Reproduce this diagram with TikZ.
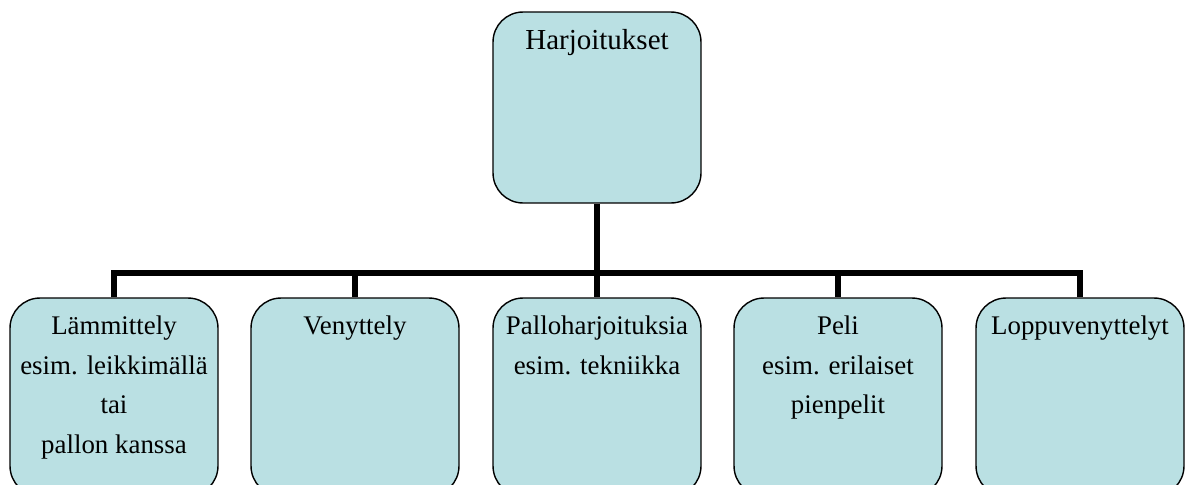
\documentclass[tikz,border=0pt]{standalone}
\usepackage{fontspec}
\setmainfont{Liberation Serif}
\usetikzlibrary{positioning}

\definecolor{boxblue}{RGB}{186,224,227}

\tikzset{
    box/.style={draw, line width=0.8pt, fill=boxblue, rounded corners=0.6cm,
        minimum width=4.16cm, inner sep=0pt},
    toptext/.style={anchor=north, inner sep=0pt, font=\fontsize{16.5}{22.8}\selectfont},
    boxtext/.style={anchor=north, inner sep=0pt, align=center, font=\fontsize{15.3}{22.6}\selectfont},
    conn/.style={line width=3.2pt, line join=miter}
}

\begin{document}
\begin{tikzpicture}[x=0.02cm, y=-0.02cm]

\useasboundingbox (0,0) rectangle (1192,484);
\clip (0,0) rectangle (1192,484);

% Top box
\node[box, minimum height=3.82cm] (harj) at (597,107.5) {};
\node[toptext] (harjtxt) at ([yshift=-0.36cm]harj.north) {Harjoitukset};

% Lower boxes
\node[box, minimum height=3.96cm] (lamm) at (114,397) {};
\node[box, minimum height=3.96cm] (veny) at (355,397) {};
\node[box, minimum height=3.96cm] (pallo) at (597,397) {};
\node[box, minimum height=3.96cm] (peli) at (838,397) {};
\node[box, minimum height=3.96cm] (loppu) at (1080,397) {};

\node[boxtext] (lammtxt) at ([yshift=-0.36cm]lamm.north) {Lämmittely\\esim. leikkimällä\\tai\\pallon kanssa};
\node[boxtext] (venytxt) at ([yshift=-0.36cm]veny.north) {Venyttely};
\node[boxtext] (pallotxt) at ([yshift=-0.36cm]pallo.north) {Palloharjoituksia\\esim. tekniikka};
\node[boxtext] (pelitxt) at ([yshift=-0.36cm]peli.north) {Peli\\esim. erilaiset\\pienpelit};
\node[boxtext] (lopputxt) at ([yshift=-0.36cm]loppu.north) {Loppuvenyttelyt};

% Connectors
\coordinate (bus) at (597,273);
\draw[conn] (harj.south) -- (bus);
\draw[conn] (lamm.north) -- (lamm.north |- bus) -- (loppu.north |- bus) -- (loppu.north);
\foreach \b in {veny, pallo, peli} {
    \draw[conn] (\b.north |- bus) -- (\b.north);
}

\end{tikzpicture}
\end{document}
